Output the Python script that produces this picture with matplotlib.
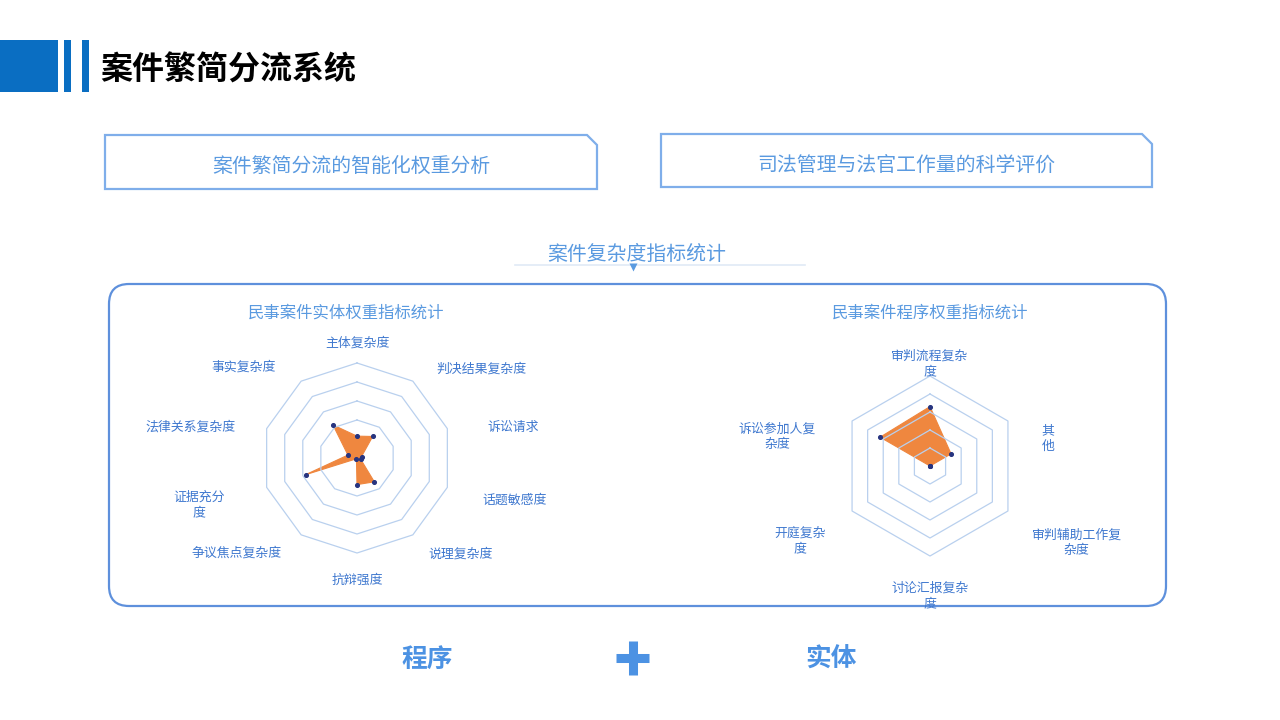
import numpy as np
import matplotlib
matplotlib.use("Agg")
import matplotlib.pyplot as plt
from matplotlib.patches import Rectangle, Polygon, FancyBboxPatch

plt.rcParams['font.family'] = ['Noto Sans CJK SC', 'DejaVu Sans']

#=============================================================================
# data
#=============================================================================
page_title = '案件繁简分流系统'
box_texts = ['案件繁简分流的智能化权重分析', '司法管理与法官工作量的科学评价']
section_title = '案件复杂度指标统计'

entity_title = '民事案件实体权重指标统计'
entity_labels = ['主体复杂度', '判决结果复杂度', '诉讼请求', '话题敏感度', '说理复杂度',
                 '抗辩强度', '争议焦点复杂度', '证据充分\n度', '法律关系复杂度', '事实复杂度']
entity_values = [23, 28, 5, 4, 31, 28, 1, 57, 10, 43]
entity_rings = [40, 60, 80, 100]

procedure_title = '民事案件程序权重指标统计'
procedure_labels = ['审判流程复杂\n度', '其\n他', '审判辅助工作复\n杂度', '讨论汇报复杂\n度',
                    '开庭复杂\n度', '诉讼参加人复\n杂度']
procedure_values = [66, 27, 0, 0, 0, 64]
procedure_rings = [20, 40, 60, 80, 100]

bottom_words = ['程序', '实体']

# small label nudges in pixels (dx, dy), dy positive = down
entity_nudge = [(0, 0), (2, 3), (5, 2), (0, 2), (-6, -4), (0, 0), (2, -5), (-7, 6), (4, 2), (-4, 1)]
procedure_nudge = [(0, 0), (4, 17), (-6, 5), (0, 0), (3, 3), (-7, 15)]

#=============================================================================
# colours
#=============================================================================
DARK_BLUE = '#0A6EC2'
TEXT_BLUE = '#5A9AE0'
LABEL_BLUE = '#3F78CF'
LINE_BLUE = '#7FAEEA'
RING = '#B9D0EE'
ORANGE = '#EF873F'
DOT = '#27347F'

W, H = 1280, 720
fig = plt.figure(figsize=(12.8, 7.2), dpi=100)
bg = fig.add_axes([0, 0, 1, 1])
bg.set_xlim(0, W)
bg.set_ylim(H, 0)
bg.axis('off')

# header
bg.add_patch(Rectangle((0, 40), 58, 52, color=DARK_BLUE, lw=0))
bg.add_patch(Rectangle((64, 40), 7, 52, color=DARK_BLUE, lw=0))
bg.add_patch(Rectangle((82, 40), 7, 52, color=DARK_BLUE, lw=0))
bg.text(100, 71, page_title, fontsize=23, fontweight='bold', color='black',
        ha='left', va='center')

# two text boxes with a clipped top-right corner
def cut_box(x0, y0, x1, y1, cut, text):
    pts = [(x0, y0), (x1 - cut, y0), (x1, y0 + cut), (x1, y1), (x0, y1)]
    bg.add_patch(Polygon(pts, closed=True, fill=False, ec=LINE_BLUE, lw=1.6))
    bg.text((x0 + x1) / 2, (y0 + y1) / 2 + 5, text, fontsize=14.3, color=TEXT_BLUE,
            ha='center', va='center')

cut_box(105, 135, 597, 189, 10, box_texts[0])
cut_box(661, 134, 1152, 187, 10, box_texts[1])

# section title with faint underline and small marker
bg.text(637, 254, section_title, fontsize=14.3, color=TEXT_BLUE, ha='center', va='center')
bg.plot([515, 805], [265, 265], color='#E0EAF6', lw=1.2)
bg.plot([633], [267], marker='v', color=TEXT_BLUE, markersize=6, mec='none')

# big rounded panel
bg.add_patch(FancyBboxPatch((109, 284), 1057, 322,
                            boxstyle='round,pad=0,rounding_size=20',
                            fill=False, ec='#5E90DC', lw=1.6))

bg.text(346, 313, entity_title, fontsize=11.8, color=TEXT_BLUE, ha='center', va='center')
bg.text(930, 313, procedure_title, fontsize=11.8, color=TEXT_BLUE, ha='center', va='center')

# bottom words and plus sign
bg.text(427, 659, bottom_words[0], fontsize=18.5, fontweight='bold', color='#4C92E3',
        ha='center', va='center')
bg.text(831, 659, bottom_words[1], fontsize=18.5, fontweight='bold', color='#4C92E3',
        ha='center', va='center')
bg.plot([616, 649], [658, 658], color='#4C92E3', lw=6.5, solid_capstyle='butt')
bg.plot([632.5, 632.5], [641, 675], color='#4C92E3', lw=6.5, solid_capstyle='butt')


#=============================================================================
# radar charts
#=============================================================================
def radar(cx, cy, R, labels, values, rings, lx, ly, yshift, nudge):
    # axes centred on (cx, cy); value 100 -> R px
    aw, ah = 420, 320
    ax = fig.add_axes([(cx - aw / 2) / W, 1 - (cy + ah / 2) / H, aw / W, ah / H])
    k = 100.0 / R
    ax.set_xlim(-aw / 2 * k, aw / 2 * k)
    ax.set_ylim(-ah / 2 * k, ah / 2 * k)
    ax.axis('off')

    n = len(labels)
    ang = np.pi / 2 - 2 * np.pi * np.arange(n) / n
    for r in rings:
        xs = np.append(r * np.cos(ang), r * np.cos(ang[0]))
        ys = np.append(r * np.sin(ang), r * np.sin(ang[0]))
        ax.plot(xs, ys, color=RING, lw=0.9)

    v = np.array(values, dtype=float)
    px, py = v * np.cos(ang), v * np.sin(ang)
    ax.fill(px, py, color=ORANGE, lw=0.8, ec=ORANGE)
    ax.scatter(px, py, s=7, color=DOT, zorder=3)

    for i, lab in enumerate(labels):
        c, s = np.cos(ang[i]), np.sin(ang[i])
        if c > 0.1:
            ha = 'left'
        elif c < -0.1:
            ha = 'right'
        else:
            ha = 'center'
        dx, dy = nudge[i]
        ax.text(lx * c + dx * k, ly * s + (yshift - dy) * k, lab, fontsize=9.3,
                color=LABEL_BLUE, ha=ha, va='center', multialignment='center',
                linespacing=1.25, clip_on=False)
    return ax


radar(357, 458, 95, entity_labels, entity_values, entity_rings, 139, 125, -4, entity_nudge)
radar(930, 466, 90, procedure_labels, procedure_values, procedure_rings, 138, 129, -14, procedure_nudge)

fig.savefig('out.png', dpi=100)
